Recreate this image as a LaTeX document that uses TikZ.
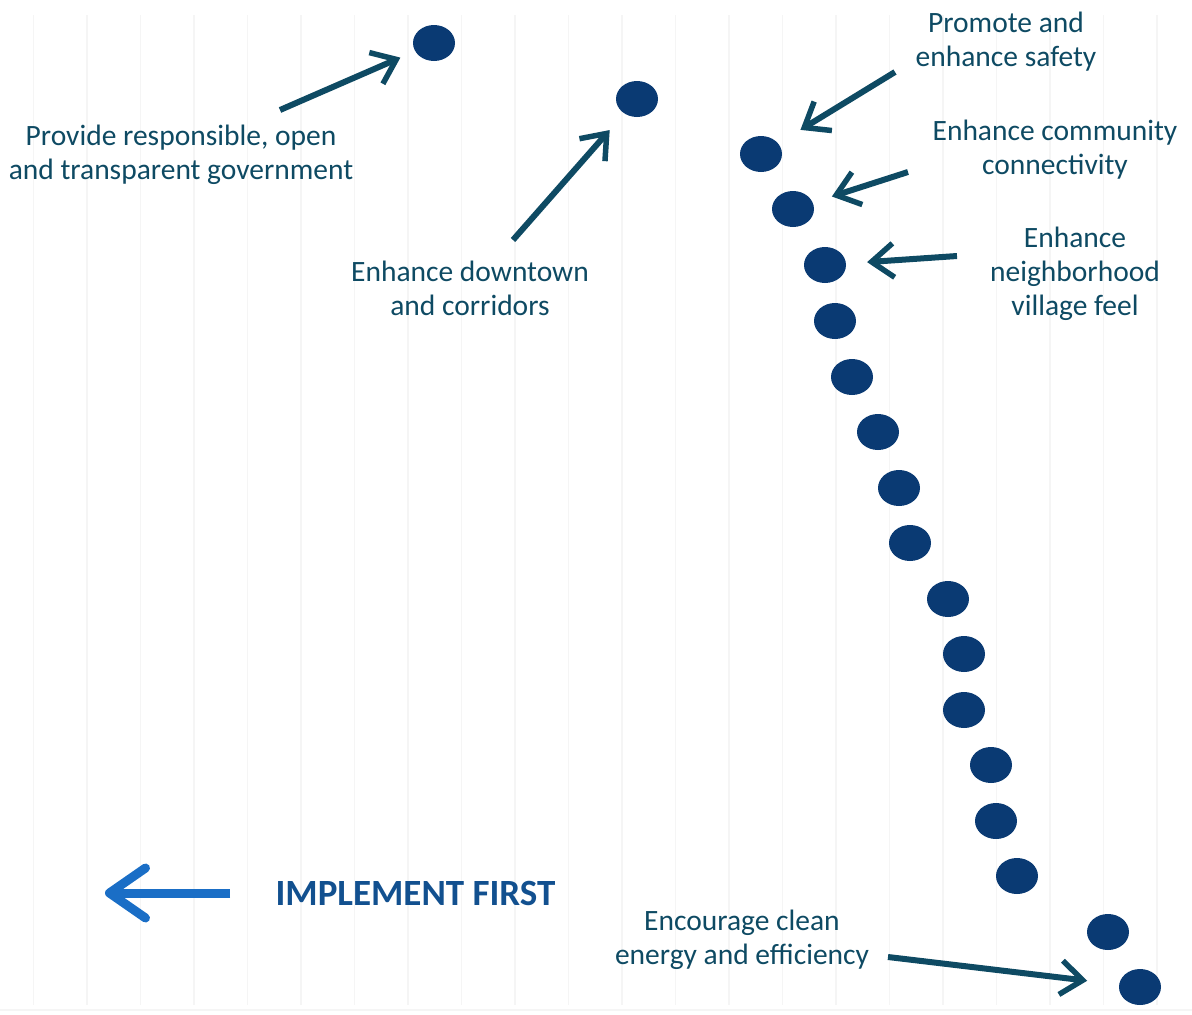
\documentclass[tikz,border=0pt]{standalone}
\usepackage{fontspec}
\setmainfont{Carlito}
\usetikzlibrary{arrows.meta,shapes.geometric}

\definecolor{dotblue}{RGB}{10,58,115}
\definecolor{labelteal}{RGB}{14,74,99}
\definecolor{firstblue}{RGB}{26,110,198}
\definecolor{firsttext}{RGB}{18,80,143}

\begin{document}
\begin{tikzpicture}[x=1pt, y=-1pt,
  priority/.style={ellipse, fill=dotblue, minimum width=42pt, minimum height=36pt, inner sep=0pt},
  goal/.style={align=center, text=labelteal, font=\fontsize{29.5}{34}\selectfont},
  pointer/.style={draw=labelteal, line width=6pt, -{Straight Barb[length=22pt, width=34pt, line width=5.5pt]}},
  gridline/.style={draw=black!4, line width=1.2pt}]
\useasboundingbox (0,0) rectangle (1192,1015);

% faint background grid
\foreach \gx in {33.5,87,...,1160} \draw[gridline] (\gx,15) -- (\gx,1005);
\draw[gridline] (0,1010) -- (1192,1010);

% ranked goals, top = first
\foreach \px/\py [count=\i] in {434/43, 637/99, 761/154, 793/209, 825/265, 835/321, 852/377, 878/432, 899/488, 910/543, 948/599, 964/654, 964/710, 991/765, 996/821, 1017/876, 1108/932, 1140/987}
  \node[priority] (d\i) at (\px,\py) {};

\node[goal] (gov) at (181,155) {Provide responsible, open\\and transparent government};
\node[goal] (downtown) at (470,288) {Enhance downtown\\and corridors};
\node[goal] (safety) at (1006,42) {Promote and\\enhance safety};
\node[goal] (connect) at (1055,150) {Enhance community\\connectivity};
\node[goal] (village) at (1075,274) {Enhance\\neighborhood\\village feel};
\node[goal] (energy) at (742,940) {Encourage clean\\energy and efficiency};
\node[anchor=west, text=firsttext, font=\fontsize{37}{42}\selectfont\bfseries] (first) at (272,893) {IMPLEMENT FIRST};

\coordinate (gov-t) at (280,110);
\coordinate (downtown-t) at (513,240);
\coordinate (safety-t) at (895,72);
\coordinate (connect-t) at (908,172);
\coordinate (village-t) at (957,256);
\coordinate (energy-t) at (888,957);
\coordinate (first-t) at (230,893);
\coordinate (first-h) at (105,893);

\draw[pointer, shorten >=16pt] (gov-t) -- (d1);
\draw[pointer, shorten >=22pt] (downtown-t) -- (d2);
\draw[pointer, shorten >=26pt] (safety-t) -- (d3);
\draw[pointer, shorten >=20pt] (connect-t) -- (d4);
\draw[pointer, shorten >=21pt] (village-t) -- (d5);
\draw[pointer, shorten >=32pt] (energy-t) -- (d18);
\draw[draw=firstblue, line width=9pt, -{Straight Barb[length=36pt, width=50pt, line width=9pt, round]}] (first-t) -- (first-h);

\end{tikzpicture}
\end{document}
